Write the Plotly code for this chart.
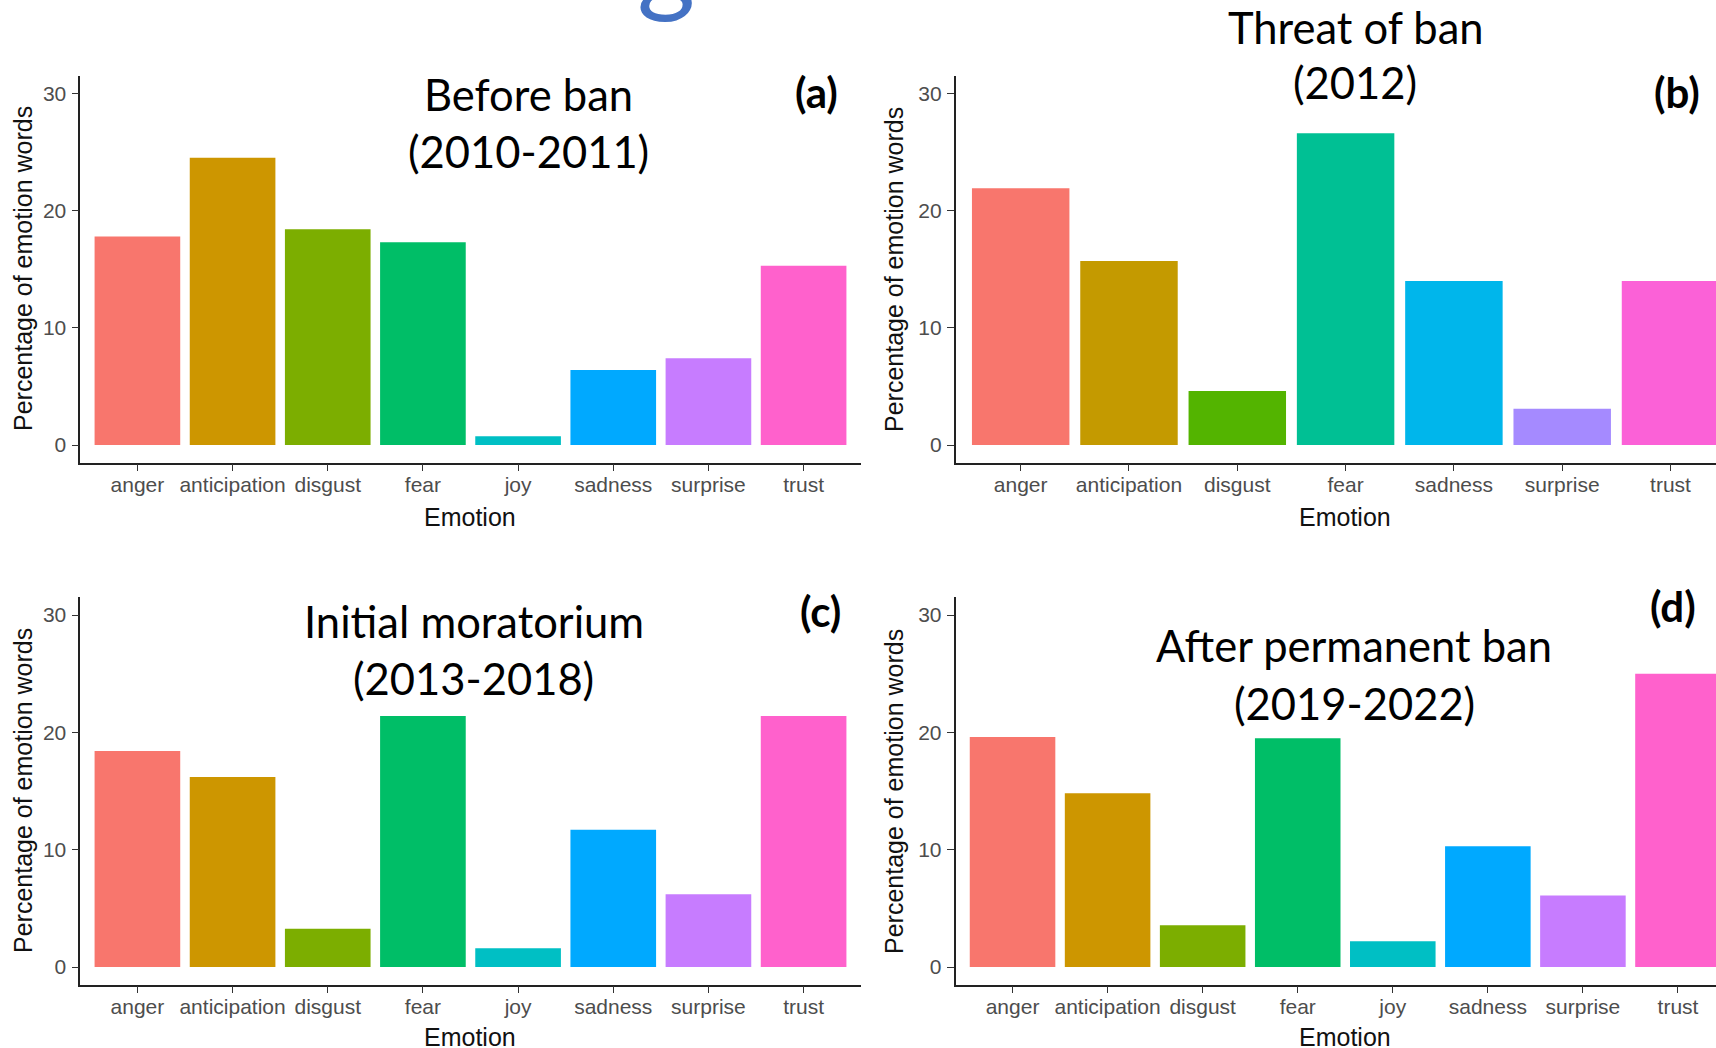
import plotly.graph_objects as go

# ---- data -------------------------------------------------------------
emotions8 = ["anger", "anticipation", "disgust", "fear", "joy", "sadness", "surprise", "trust"]
emotions7 = ["anger", "anticipation", "disgust", "fear", "sadness", "surprise", "trust"]

before_ban = [17.8, 24.5, 18.4, 17.3, 0.75, 6.4, 7.4, 15.3]          # (a) 2010-2011
threat_of_ban = [21.9, 15.7, 4.6, 26.6, 14.0, 3.1, 14.0]              # (b) 2012
initial_moratorium = [18.4, 16.2, 3.25, 21.4, 1.6, 11.7, 6.2, 21.4]   # (c) 2013-2018
after_permanent_ban = [19.6, 14.8, 3.56, 19.5, 2.2, 10.3, 6.1, 25.0]  # (d) 2019-2022

y_ticks = [0, 10, 20, 30]

# ggplot2 default hue palettes
hue8 = ["#F8766D", "#CD9600", "#7CAE00", "#00BE67", "#00BFC4", "#00A9FF", "#C77CFF", "#FF61CC"]
hue7 = ["#F8766D", "#C49A00", "#53B400", "#00C094", "#00B6EB", "#A58AFF", "#FB61D7"]

W, H = 1716, 1048


def px_x(p):
    return p / W


def px_y(p):
    return (H - p) / H


fig = go.Figure()

panels = [
    # axis suffix, categories, values, colours, x-domain px, y-domain px, x range
    ("", emotions8, before_ban, hue8, (80.3, 860.7), (75.8, 462.6), (-0.6, 7.6)),
    ("2", emotions7, threat_of_ban, hue7, (955.7, 1716), (75.8, 462.6), (-0.6, 6.42)),
    ("3", emotions8, initial_moratorium, hue8, (80.3, 860.7), (597.4, 984.6), (-0.6, 7.6)),
    ("4", emotions8, after_permanent_ban, hue8, (955.5, 1716), (597.4, 984.6), (-0.6, 7.40)),
]

tick_font = dict(family="Liberation Sans, Arial, sans-serif", size=21, color="#4D4D4D")
title_font = dict(family="Liberation Sans, Arial, sans-serif", size=25, color="#111111")

layout_axes = {}
for suffix, cats, vals, cols, xd, yd, xr in panels:
    fig.add_trace(go.Bar(
        x=cats, y=vals, marker=dict(color=cols, line=dict(width=0)),
        xaxis="x" + suffix, yaxis="y" + suffix, showlegend=False,
        hoverinfo="x+y",
    ))
    layout_axes["xaxis" + suffix] = dict(
        domain=[px_x(xd[0]), px_x(xd[1])],
        anchor="y" + suffix,
        type="category",
        categoryorder="array", categoryarray=cats,
        range=list(xr),
        showline=True, linecolor="#222222", linewidth=1.6,
        ticks="outside", ticklen=7, tickwidth=1.4, tickcolor="#333333",
        tickfont=tick_font, ticklabelstandoff=-5,
        showgrid=False, zeroline=False, fixedrange=True,
    )
    layout_axes["yaxis" + suffix] = dict(
        domain=[px_y(yd[1]), px_y(yd[0])],
        anchor="x" + suffix,
        range=[-1.5, 31.5],
        tickvals=y_ticks, ticktext=[str(v) for v in y_ticks],
        showline=True, linecolor="#222222", linewidth=1.6,
        ticks="outside", ticklen=7, tickwidth=1.4, tickcolor="#333333",
        tickfont=dict(tick_font, size=21), ticklabelstandoff=1,
        showgrid=False, zeroline=False, fixedrange=True,
    )

annotations = []


def add_text(text, x, y, font, xanchor="center", yanchor="middle", angle=0):
    annotations.append(dict(
        text=text, x=px_x(x), y=px_y(y), xref="paper", yref="paper",
        xanchor=xanchor, yanchor=yanchor, showarrow=False, font=font,
        textangle=angle,
    ))


# axis titles
for cx, cy in [(470, 517), (1345, 517), (470, 1037), (1345, 1037)]:
    add_text("Emotion", cx, cy, title_font)
for cx, cy in [(23, 269), (894, 269), (23, 791), (894, 791)]:
    add_text("Percentage of emotion words", cx, cy, title_font, angle=-90)

# panel titles
head_font = dict(family="Lato, Carlito, sans-serif", size=43.5, color="#000000")
add_text("Before ban", 528, 94, head_font)
add_text("(2010-2011)", 528, 151, head_font)
add_text("Threat of ban", 1356, 27, head_font)
add_text("(2012)", 1355, 82, head_font)
add_text("Initial moratorium", 474, 621, head_font)
add_text("(2013-2018)", 474, 678, head_font)
add_text("After permanent ban", 1354, 645, head_font)
add_text("(2019-2022)", 1354, 703, head_font)

# panel letters
tag_font = dict(family="Lato, Carlito, sans-serif", size=42, color="#000000", weight="bold")
add_text("(a)", 816, 92, tag_font)
add_text("(b)", 1677, 92, tag_font)
add_text("(c)", 820, 611, tag_font)
add_text("(d)", 1673, 606, tag_font)

# slide heading above the panels, mostly outside the page
add_text("g", 666, -42, dict(family="Lato, sans-serif", size=112, color="#4472C4"))

fig.update_layout(
    width=W, height=H,
    margin=dict(l=0, r=0, t=0, b=0),
    paper_bgcolor="white", plot_bgcolor="white",
    bargap=0.1,
    annotations=annotations,
    **layout_axes,
)

fig.write_html("out.html")
